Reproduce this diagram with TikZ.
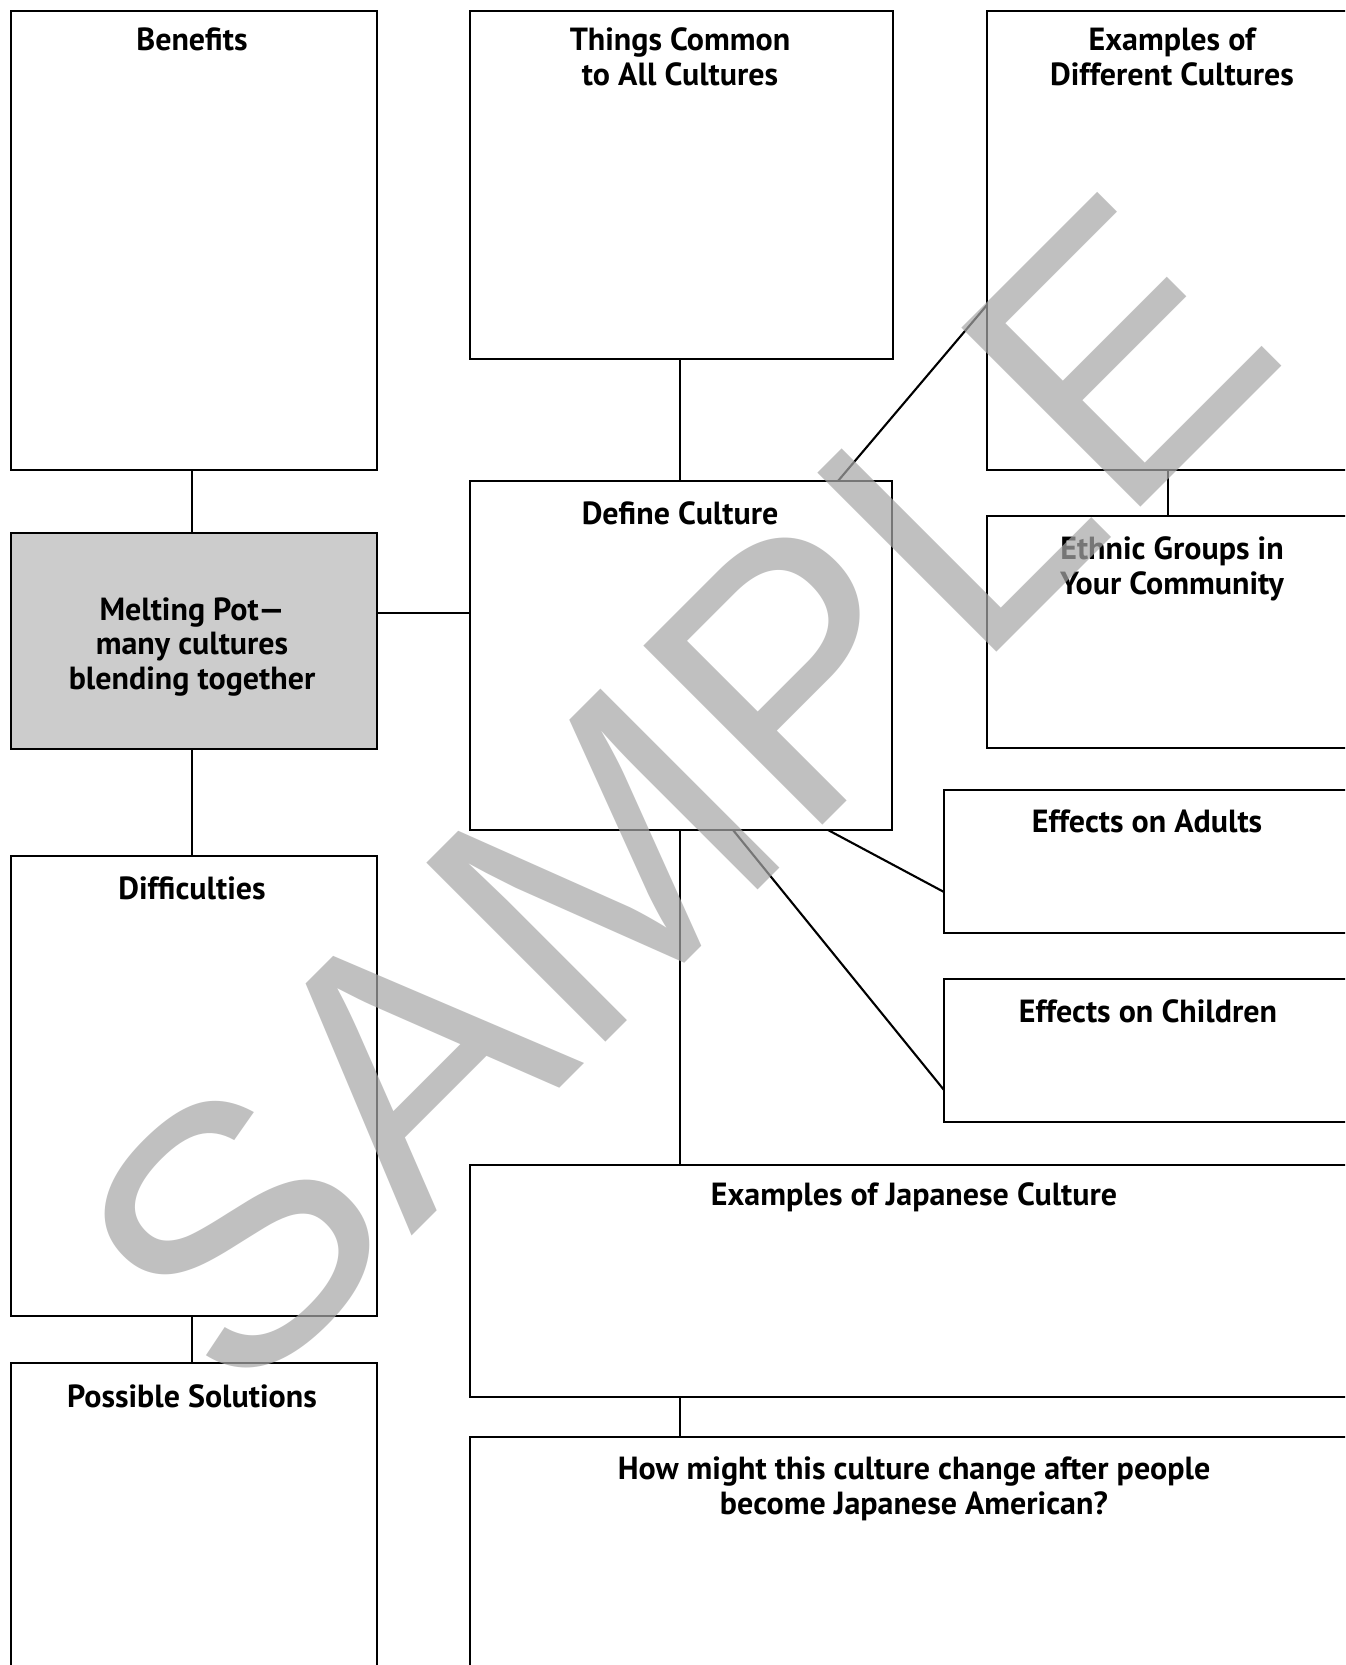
\documentclass[tikz,border=0pt]{standalone}
\usepackage{fontspec}
\setmainfont{PT Sans}
\newfontfamily\wmfont{Liberation Sans}
\usetikzlibrary{calc}
\definecolor{potgray}{HTML}{CCCCCC}
\definecolor{wmgray}{RGB}{167,167,167}
\begin{document}
\begin{tikzpicture}[x=1pt,y=-1pt,
  box/.style={draw=black, line width=2.6pt, rectangle, inner sep=0pt, outer sep=0pt, anchor=north west},
  title/.style={font=\bfseries\fontsize{32}{34.5}\selectfont, align=center, anchor=base, inner sep=0pt},
  conn/.style={line width=2.1pt}]
\useasboundingbox (0,0) rectangle (1345,1665);
\clip (0,0) rectangle (1345,1665);
\fill[white] (0,0) rectangle (1345,1665);

% boxes
\node[box, minimum width=366pt, minimum height=459pt] (ben) at (11,11) {};
\node[box, fill=potgray, minimum width=366pt, minimum height=216pt] (melt) at (11,533) {};
\node[box, minimum width=366pt, minimum height=460pt] (diff) at (11,856) {};
\node[box, minimum width=366pt, minimum height=400pt] (sol) at (11,1363) {};
\node[box, minimum width=423pt, minimum height=348pt] (things) at (470,11) {};
\node[box, minimum width=422pt, minimum height=349pt] (define) at (470,481) {};
\node[box, minimum width=370pt, minimum height=459pt] (exdiff) at (987,11) {};
\node[box, minimum width=370pt, minimum height=232pt] (ethnic) at (987,516) {};
\node[box, minimum width=413pt, minimum height=143pt] (adults) at (944,790) {};
\node[box, minimum width=413pt, minimum height=143pt] (children) at (944,979) {};
\node[box, minimum width=888pt, minimum height=232pt] (japan) at (470,1165) {};
\node[box, minimum width=888pt, minimum height=400pt] (how) at (470,1437) {};

% connectors
\draw[conn] ($(ben.south west)+(181,0)$) -- ($(melt.north west)+(181,0)$);
\draw[conn] ($(melt.north east)+(0,80)$) -- ($(define.north west)+(0,132)$);
\draw[conn] ($(melt.south west)+(181,0)$) -- ($(diff.north west)+(181,0)$);
\draw[conn] ($(diff.south west)+(181,0)$) -- ($(sol.north west)+(181,0)$);
\draw[conn] ($(things.south west)+(210,0)$) -- ($(define.north west)+(210,0)$);
\draw[conn] ($(define.north west)+(368,0)$) -- ($(exdiff.north west)+(0,294)$);
\draw[conn] ($(exdiff.south west)+(181,0)$) -- ($(ethnic.north west)+(181,0)$);
\draw[conn] ($(define.south west)+(358,0)$) -- ($(adults.north west)+(0,102)$);
\draw[conn] ($(define.south west)+(263,0)$) -- ($(children.north west)+(0,111)$);
\draw[conn] ($(define.south west)+(210,0)$) -- ($(japan.north west)+(210,0)$);
\draw[conn] ($(japan.south west)+(210,0)$) -- ($(how.north west)+(210,0)$);

% titles (anchor=base is the baseline of the last line)
\node[title] (tben) at ($(ben.north west)+(181,39)$) {Benefits};
\node[title] (tthings) at ($(things.north west)+(210,74)$) {Things Common\\to All Cultures};
\node[title] (texdiff) at ($(exdiff.north west)+(185,74)$) {Examples of\\Different Cultures};
\node[title] (tdefine) at ($(define.north west)+(210,43)$) {Define Culture};
\node[title] (tethnic) at ($(ethnic.north west)+(185,78)$) {Ethnic Groups in\\Your Community};
\node[title] (tmelt) at ($(melt.north west)+(181,156)$) {Melting Pot—\\many cultures\\blending together};
\node[title] (tdiff) at ($(diff.north west)+(181,43)$) {Difficulties};
\node[title] (tadults) at ($(adults.north west)+(203,42)$) {Effects on Adults};
\node[title] (tchildren) at ($(children.north west)+(204,43)$) {Effects on Children};
\node[title] (tjapan) at ($(japan.north west)+(444,40)$) {Examples of Japanese Culture};
\node[title] (thow) at ($(how.north west)+(444,77)$) {How might this culture change after people\\become Japanese American?};
\node[title] (tsol) at ($(sol.north west)+(181,44)$) {Possible Solutions};

% watermark
\node[rotate=45, text=wmgray, text opacity=0.71, inner sep=0pt, font=\wmfont\fontsize{368}{400}\selectfont] (wm) at (676,793) {SAMPLE};
\end{tikzpicture}
\end{document}
